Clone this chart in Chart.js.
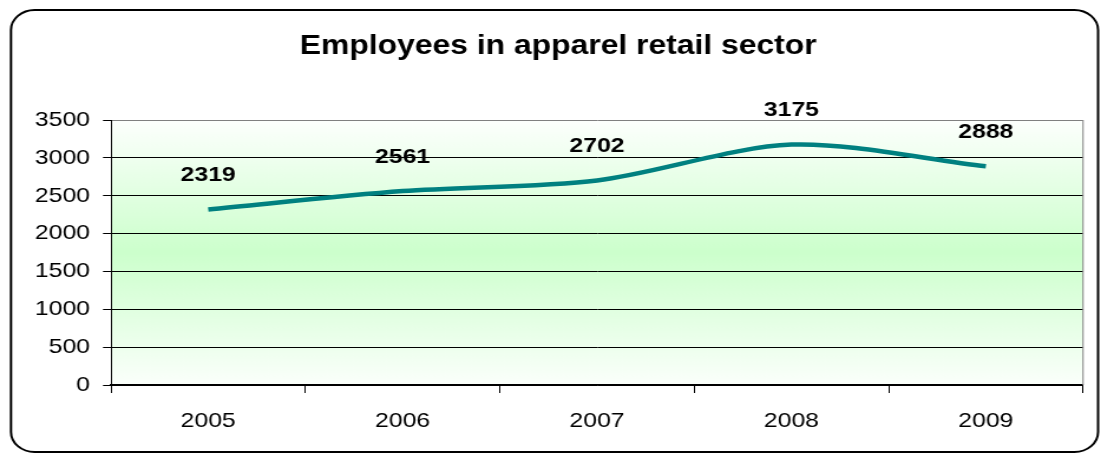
<!DOCTYPE html>
<html>
<head>
<meta charset="utf-8">
<title>Employees in apparel retail sector</title>
<script src="https://cdn.jsdelivr.net/npm/chart.js@4.4.1/dist/chart.umd.min.js"></script>
<style>
  html, body { margin: 0; padding: 0; background: #fff; overflow: hidden; }
</style>
</head>
<body>
<!-- drawn at 933px wide and stretched to 1101px, like the wide Excel export -->
<canvas id="chart" width="933" height="454" style="width:1101px;height:454px"></canvas>
<script>
var years = ['2005', '2006', '2007', '2008', '2009'];
var employees = [2319, 2561, 2702, 3175, 2888];
var yTicks = [0, 500, 1000, 1500, 2000, 2500, 3000, 3500];
var chartTitle = 'Employees in apparel retail sector';

var FONT = '"Liberation Sans", Arial, sans-serif';

// white page, rounded frame, title and the green plot-area gradient
var chartBackground = {
  id: 'chartBackground',
  beforeDraw: function(chart) {
    var ctx = chart.ctx;
    var a = chart.chartArea;
    ctx.save();
    ctx.fillStyle = '#fff';
    ctx.fillRect(0, 0, chart.width, chart.height);

    var g = ctx.createLinearGradient(0, a.top, 0, a.bottom);
    g.addColorStop(0, '#fdfffd');
    g.addColorStop(0.5, '#ccffcc');
    g.addColorStop(1, '#fbfffb');
    ctx.fillStyle = g;
    ctx.fillRect(a.left, a.top, a.right - a.left, a.bottom - a.top);

    ctx.lineWidth = 2;
    ctx.strokeStyle = '#000';
    ctx.beginPath();
    ctx.roundRect(9.3, 10, 921.2, 442, 20);
    ctx.stroke();

    // title sits over the frame centre, not the plot
    ctx.font = 'bold 27px ' + FONT;
    ctx.fillStyle = '#000';
    ctx.textAlign = 'center';
    ctx.textBaseline = 'middle';
    ctx.fillText(chartTitle, 473, 47);
    ctx.restore();
  },
  afterDraw: function(chart) {
    var ctx = chart.ctx;
    var a = chart.chartArea;
    ctx.save();
    ctx.strokeStyle = '#808080';
    ctx.lineWidth = 1;
    ctx.beginPath();
    ctx.moveTo(a.right, a.top);
    ctx.lineTo(a.right, a.bottom);
    ctx.stroke();
    ctx.restore();
  }
};

// bold value above each point
var valueLabels = {
  id: 'valueLabels',
  afterDatasetsDraw: function(chart) {
    var ctx = chart.ctx;
    var points = chart.getDatasetMeta(0).data;
    ctx.save();
    ctx.font = 'bold 21px ' + FONT;
    ctx.fillStyle = '#000';
    ctx.textAlign = 'center';
    ctx.textBaseline = 'middle';
    points.forEach(function(pt, i) {
      ctx.fillText(String(employees[i]), pt.x, pt.y - 34);
    });
    ctx.restore();
  }
};

new Chart(document.getElementById('chart'), {
  type: 'line',
  data: {
    labels: years,
    datasets: [{
      data: employees,
      borderColor: '#008080',
      borderWidth: 4.5,
      pointRadius: 0,
      tension: 0.3,
      fill: false
    }]
  },
  options: {
    responsive: false,
    animation: false,
    devicePixelRatio: 1,
    layout: { padding: { top: 120, left: 0, right: 15.2, bottom: 0 } },
    plugins: {
      legend: { display: false },
      tooltip: { enabled: false },
      title: { display: false }
    },
    scales: {
      x: {
        offset: true,
        grid: {
          offset: true,
          drawOnChartArea: false,
          drawTicks: true,
          tickLength: 8,
          tickColor: '#000'
        },
        border: { color: '#000', width: 1.5 },
        ticks: { color: '#000', font: { family: FONT, size: 21 }, padding: 15.4, maxRotation: 0 },
        afterFit: function(s) { s.height = 69; }
      },
      y: {
        min: 0,
        max: 3500,
        afterBuildTicks: function(s) {
          s.ticks = yTicks.map(function(v) { return { value: v }; });
        },
        grid: {
          color: function(c) { return c.tick && c.tick.value === 3500 ? '#808080' : '#000'; },
          tickColor: '#000',
          tickLength: 6.8,
          lineWidth: 1
        },
        border: { color: '#000', width: 1 },
        ticks: {
          color: '#000',
          font: { family: FONT, size: 21 },
          padding: 11,
          callback: function(v) { return String(v); }
        },
        afterFit: function(s) { s.width = 94.07; }
      }
    }
  },
  plugins: [chartBackground, valueLabels]
});
</script>
</body>
</html>
